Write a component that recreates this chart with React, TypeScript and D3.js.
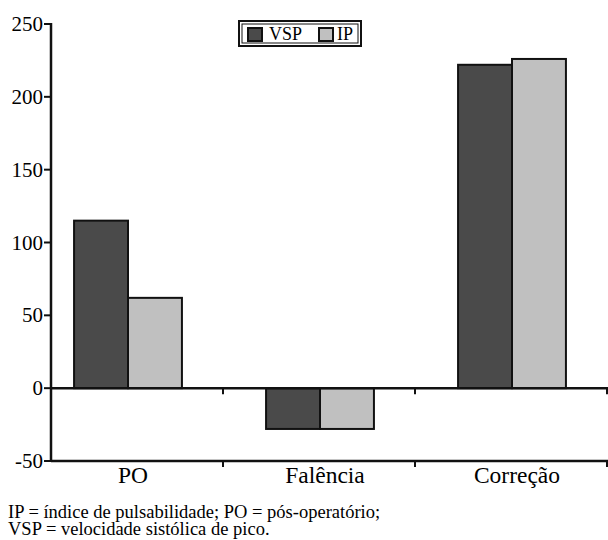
import { scaleBand, scaleLinear } from 'd3';

// Values.
const categories = ['PO', 'Falência', 'Correção'];
const seriesNames = ['VSP', 'IP'];
const vspValues = [115, -28, 222];
const ipValues = [62, -28, 226];
const yTicks = [-50, 0, 50, 100, 150, 200, 250];
const footnote = [
  'IP = índice de pulsabilidade; PO = pós-operatório;',
  'VSP = velocidade sistólica de pico.',
];

const colors: Record<string, string> = { VSP: '#4a4a4a', IP: '#c0c0c0' };
const font = 'Liberation Serif';
const txt = (size: number) => ({ fontFamily: font, fontSize: `${size}px` });

export default function App() {
  const width = 608;
  const height = 540;
  const axisX = 51;
  const x0 = scaleBand<string>().domain(categories).range([32, 608]);
  const x1 = scaleBand<string>()
    .domain(seriesNames)
    .range([0, x0.bandwidth()])
    .paddingOuter(0.78);
  const y = scaleLinear().domain([-50, 250]).range([461, 24]);

  const values: Record<string, number[]> = { VSP: vspValues, IP: ipValues };
  const boundaries = categories.map((c) => (x0(c) ?? 0) + x0.bandwidth());

  return (
    <svg width={width} height={height} style={{ position: 'absolute', left: 0, top: 0 }}>
      {/* footnote + legend text first */}
      {footnote.map((line, i) => (
        <text key={i} x={8} y={517.5 + i * 17.5} style={txt(18.5)}>
          {line}
        </text>
      ))}

      {/* bars */}
      {categories.map((c, i) =>
        seriesNames.map((s) => {
          const v = values[s][i];
          const bx = (x0(c) ?? 0) + (x1(s) ?? 0);
          return (
            <rect
              key={c + s}
              x={bx}
              y={y(Math.max(0, v))}
              width={x1.bandwidth()}
              height={Math.abs(y(v) - y(0))}
              fill={colors[s]}
              stroke="#111"
              strokeWidth={2}
            />
          );
        })
      )}

      {/* zero line */}
      <line x1={axisX} x2={width} y1={y(0)} y2={y(0)} stroke="#111" strokeWidth={2.5} />
      {/* bottom axis */}
      <line x1={axisX} x2={width} y1={y(-50)} y2={y(-50)} stroke="#111" strokeWidth={2.5} />
      {boundaries.map((b) => (
        <g key={b}>
          <line x1={b - 1} x2={b - 1} y1={y(0)} y2={y(0) + 6} stroke="#111" strokeWidth={2} />
          <line x1={b - 1} x2={b - 1} y1={y(-50)} y2={y(-50) + 6} stroke="#111" strokeWidth={2} />
        </g>
      ))}

      {/* y axis */}
      <line x1={axisX} x2={axisX} y1={y(250) - 1} y2={y(-50) + 1} stroke="#111" strokeWidth={2.5} />
      {yTicks.map((t) => (
        <line key={t} x1={axisX - 7} x2={axisX} y1={y(t)} y2={y(t)} stroke="#111" strokeWidth={2} />
      ))}

      {/* legend */}
      <rect x={239} y={21} width={122} height={25} fill="#fff" stroke="#111" strokeWidth={2} />
      <rect x={242} y={24} width={116} height={19} fill="none" stroke="#111" strokeWidth={1} />
      <rect x={248} y={28} width={14} height={13} fill={colors.VSP} stroke="#111" strokeWidth={2} />
      <text x={269} y={40} style={txt(18)}>VSP</text>
      <rect x={319} y={28} width={14} height={13} fill={colors.IP} stroke="#111" strokeWidth={2} />
      <text x={337} y={40} style={txt(18)}>IP</text>

      {/* y tick labels */}
      {yTicks.map((t) => (
        <text key={t} x={axisX - 8} y={y(t) + 7} textAnchor="end" style={txt(21)}>
          {String(t)}
        </text>
      ))}

      {/* category labels */}
      {categories.map((c) => (
        <text
          key={c}
          x={(x0(c) ?? 0) + x0.bandwidth() / 2 + 5}
          y={483}
          textAnchor="middle"
          style={txt(23.5)}
        >
          {c}
        </text>
      ))}
    </svg>
  );
}
